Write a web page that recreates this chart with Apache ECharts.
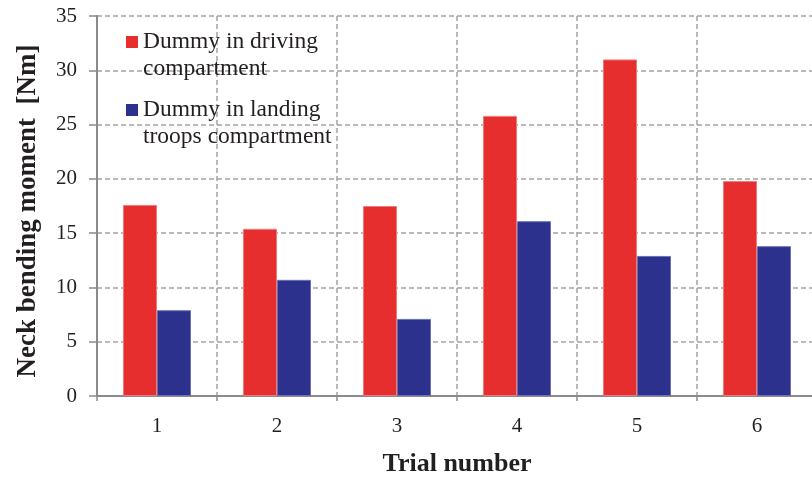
<!DOCTYPE html>
<html>
<head>
<meta charset="utf-8">
<script src="https://cdn.jsdelivr.net/npm/echarts@6/dist/echarts.min.js"></script>
<style>
html,body{margin:0;padding:0;background:#fff;}
#chart{width:812px;height:477px;}
</style>
</head>
<body>
<div id="chart"></div>
<script>
var categories = ['1', '2', '3', '4', '5', '6'];
var drivingValues = [17.6, 15.4, 17.5, 25.8, 31.0, 19.8];
var landingValues = [7.9, 10.7, 7.1, 16.1, 12.9, 13.8];
var seriesNames = ['Dummy in driving\ncompartment', 'Dummy in landing\ntroops compartment'];
var yAxisTitle = 'Neck bending moment  [Nm]';
var xAxisTitle = 'Trial number';

var FONT = 'Liberation Serif';
var gridColor = '#a3a3a3';
var axisColor = '#8a8a8e';

var chart = echarts.init(document.getElementById('chart'), null, {renderer: 'canvas'});
function legendCfg(name, top) {
  return {
    data: [name],
    left: 126,
    top: top,
    padding: 0,
    orient: 'vertical',
    icon: 'rect',
    itemWidth: 12,
    itemHeight: 12,
    selectedMode: false,
    itemStyle: {borderWidth: 0},
    formatter: function (n) { return ' \n' + n; },
    textStyle: {
      fontFamily: FONT,
      fontSize: 23.5,
      color: '#231f20',
      lineHeight: 27
    }
  };
}
chart.setOption({
  animation: false,
  backgroundColor: '#fff',
  grid: {left: 97, right: -5, top: 16, bottom: 81, containLabel: false, outerBoundsMode: 'none'},
  legend: [legendCfg(seriesNames[0], 1.5), legendCfg(seriesNames[1], 69.5)],
  xAxis: {
    type: 'category',
    data: categories,
    name: xAxisTitle,
    nameLocation: 'middle',
    nameGap: 55,
    nameTextStyle: {fontFamily: FONT, fontSize: 26, fontWeight: 'bold', color: '#231f20'},
    axisLine: {show: true, lineStyle: {color: axisColor, width: 2}},
    axisTick: {show: true, length: 5, lineStyle: {color: axisColor, width: 1.5}},
    axisLabel: {fontFamily: FONT, fontSize: 21, color: '#231f20', margin: 20},
    splitLine: {show: true, lineStyle: {color: gridColor, width: 1.5, type: [5, 3]}}
  },
  yAxis: {
    type: 'value',
    min: 0,
    max: 35,
    interval: 5,
    name: yAxisTitle,
    nameLocation: 'middle',
    nameGap: 55,
    nameTextStyle: {fontFamily: FONT, fontSize: 27, fontWeight: 'bold', color: '#231f20', padding: [0, 10, 0, 0]},
    axisLine: {show: true, lineStyle: {color: axisColor, width: 2}},
    axisTick: {show: true, length: 8, lineStyle: {color: axisColor, width: 1.5}},
    axisLabel: {fontFamily: FONT, fontSize: 21, color: '#231f20', margin: 20},
    splitLine: {show: true, lineStyle: {color: gridColor, width: 1.5, type: [5, 3]}}
  },
  series: [
    {
      name: seriesNames[0],
      type: 'bar',
      data: drivingValues,
      barWidth: 34,
      barGap: '0%',
      itemStyle: {color: '#e62e2f', borderColor: '#f07a7a', borderWidth: 1}
    },
    {
      name: seriesNames[1],
      type: 'bar',
      data: landingValues,
      barWidth: 34,
      barGap: '0%',
      itemStyle: {color: '#2b318c', borderColor: '#6a70b5', borderWidth: 1}
    }
  ]
});
</script>
</body>
</html>
